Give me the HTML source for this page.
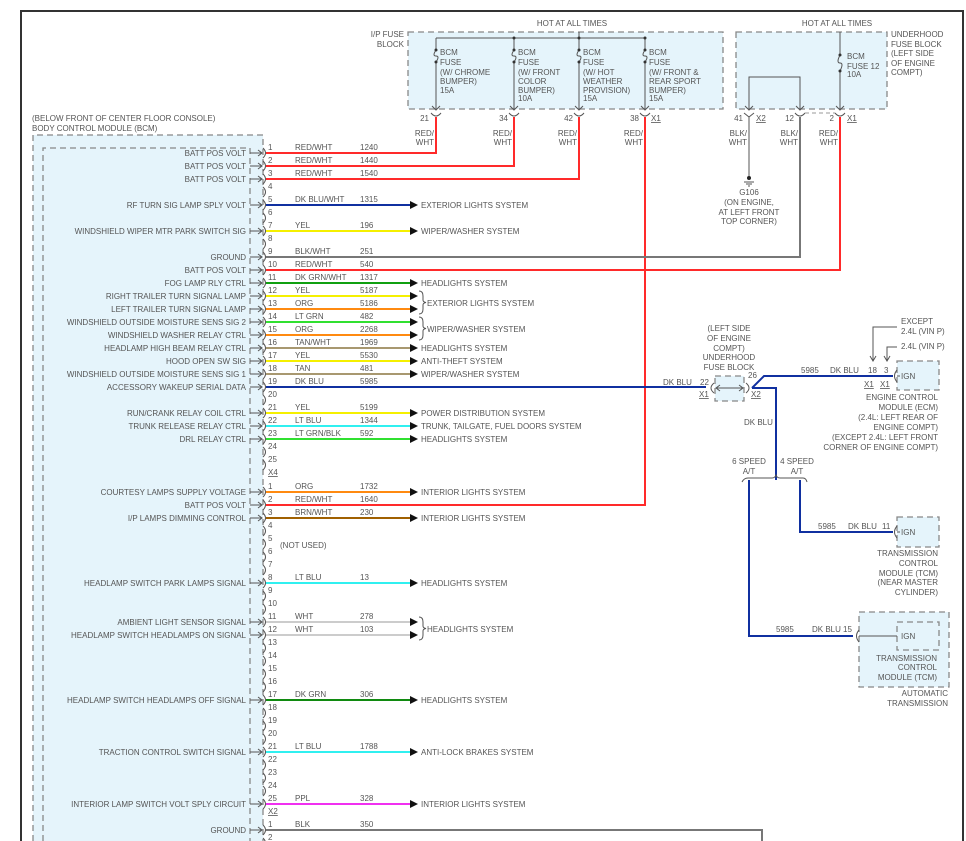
<!DOCTYPE html>
<html><head><meta charset="utf-8"><style>
html,body{margin:0;padding:0;background:#fff;width:966px;height:841px;overflow:hidden}
svg{display:block}
text{font-family:"Liberation Sans",sans-serif;font-size:8px;fill:#555}
.r{text-anchor:end}.m{text-anchor:middle}
.d{fill:none;stroke:#888;stroke-width:1.3;stroke-dasharray:6,4}
.w{fill:none;stroke-width:2}
.k{fill:none;stroke:#555;stroke-width:1}
</style></head><body>
<svg width="966" height="841" viewBox="0 0 966 841" xmlns="http://www.w3.org/2000/svg">
<path d="M21,841 V11 H963 V841" fill="none" stroke="#333" stroke-width="2"/>

<rect x="33" y="135" width="230" height="710" fill="#e5f4fb"/>
<path class="d" d="M33,841 V135 H263 V841"/>
<path class="d" d="M43,841 V148 H250 V841"/>
<text x="32" y="121">(BELOW FRONT OF CENTER FLOOR CONSOLE)</text>
<text x="32" y="131">BODY CONTROL MODULE (BCM)</text>

<rect x="408" y="32" width="315" height="77" fill="#e5f4fb"/>
<rect class="d" x="408" y="32" width="315" height="77"/>
<rect x="736" y="32" width="151" height="77" fill="#e5f4fb"/>
<rect class="d" x="736" y="32" width="151" height="77"/>
<text class="m" x="572" y="26">HOT AT ALL TIMES</text>
<text class="m" x="837" y="26">HOT AT ALL TIMES</text>
<text class="r" x="404" y="37">I/P FUSE</text>
<text class="r" x="404" y="47">BLOCK</text>
<text x="891" y="37">UNDERHOOD</text><text x="891" y="47">FUSE BLOCK</text><text x="891" y="56">(LEFT SIDE</text><text x="891" y="66">OF ENGINE</text><text x="891" y="75">COMPT)</text>
<path class="k" d="M579,32 V38 M436,38 H645 M436,38 V48 M514,38 V48 M579,38 V48 M645,38 V48"/>
<g fill="#333"><circle cx="514" cy="38" r="1.5"/><circle cx="579" cy="38" r="1.5"/><circle cx="645" cy="38" r="1.5"/></g>
<g class="k">
<path d="M436,48 V50 Q432,56 436,56 Q440,56 436,62 V110 M514,48 V50 Q510,56 514,56 Q518,56 514,62 V110 M579,48 V50 Q575,56 579,56 Q583,56 579,62 V110 M645,48 V50 Q641,56 645,56 Q649,56 645,62 V110"/>
<path d="M840,32 V55 Q836,63 840,63 Q844,63 840,71 V110 M749,110 V77 H800 V110"/>
<path d="M432,106 L436,110 L440,106 M510,106 L514,110 L518,106 M575,106 L579,110 L583,106 M641,106 L645,110 L649,106 M745,106 L749,110 L753,106 M796,106 L800,110 L804,106 M836,106 L840,110 L844,106"/>
<path d="M431,113 Q436,119 441,113 M509,113 Q514,119 519,113 M574,113 Q579,119 584,113 M640,113 Q645,119 650,113 M744,113 L749,117 L754,113 M795,113 Q800,119 805,113 M835,113 Q840,119 845,113"/>
</g>
<g fill="#333"><circle cx="436" cy="50" r="1.5"/><circle cx="436" cy="62" r="1.5"/><circle cx="514" cy="50" r="1.5"/><circle cx="514" cy="62" r="1.5"/><circle cx="579" cy="50" r="1.5"/><circle cx="579" cy="62" r="1.5"/><circle cx="645" cy="50" r="1.5"/><circle cx="645" cy="62" r="1.5"/><circle cx="840" cy="55" r="1.5"/><circle cx="840" cy="71" r="1.5"/></g>
<text x="440" y="55">BCM</text><text x="440" y="65">FUSE</text><text x="440" y="75">(W/ CHROME</text><text x="440" y="84">BUMPER)</text><text x="440" y="93">15A</text>
<text x="518" y="55">BCM</text><text x="518" y="65">FUSE</text><text x="518" y="75">(W/ FRONT</text><text x="518" y="84">COLOR</text><text x="518" y="93">BUMPER)</text><text x="518" y="101">10A</text>
<text x="583" y="55">BCM</text><text x="583" y="65">FUSE</text><text x="583" y="75">(W/ HOT</text><text x="583" y="84">WEATHER</text><text x="583" y="93">PROVISION)</text><text x="583" y="101">15A</text>
<text x="649" y="55">BCM</text><text x="649" y="65">FUSE</text><text x="649" y="75">(W/ FRONT &amp;</text><text x="649" y="84">REAR SPORT</text><text x="649" y="93">BUMPER)</text><text x="649" y="101">15A</text>
<text x="847" y="59">BCM</text><text x="847" y="69">FUSE 12</text><text x="847" y="77">10A</text>
<text class="r" x="429" y="121">21</text><text class="r" x="508" y="121">34</text><text class="r" x="573" y="121">42</text><text class="r" x="639" y="121">38</text>
<text x="651" y="121" text-decoration="underline">X1</text>
<text class="r" x="743" y="121">41</text><text x="756" y="121" text-decoration="underline">X2</text>
<text class="r" x="794" y="121">12</text><text class="r" x="834" y="121">2</text><text x="847" y="121" text-decoration="underline">X1</text>
<path d="M805,113 H835" stroke="#999" stroke-dasharray="4,3" fill="none"/>
<g>
<text class="r" x="434" y="136">RED/</text><text class="r" x="434" y="145">WHT</text>
<text class="r" x="512" y="136">RED/</text><text class="r" x="512" y="145">WHT</text>
<text class="r" x="577" y="136">RED/</text><text class="r" x="577" y="145">WHT</text>
<text class="r" x="643" y="136">RED/</text><text class="r" x="643" y="145">WHT</text>
<text class="r" x="747" y="136">BLK/</text><text class="r" x="747" y="145">WHT</text>
<text class="r" x="798" y="136">BLK/</text><text class="r" x="798" y="145">WHT</text>
<text class="r" x="838" y="136">RED/</text><text class="r" x="838" y="145">WHT</text>
</g>
<path class="k" d="M749,117 V176 M744,182 H754 M746,184 H752 M748,186 H750"/>
<circle cx="749" cy="178" r="2" fill="#222"/>
<text class="m" x="749" y="195">G106</text><text class="m" x="749" y="205">(ON ENGINE,</text><text class="m" x="749" y="215">AT LEFT FRONT</text><text class="m" x="749" y="224">TOP CORNER)</text>

<path class="w" stroke="#ff2a2a" d="M266,153 H436 V117 M266,166 H514 V117 M266,179 H579 V117 M266,270 H840 V117 M266,505 H645 V117"/>
<path class="w" stroke="#777" d="M266,257 H800 V117 M266,830 H762 V841"/>
<path class="w" stroke="#1030a0" d="M266,387 H706 M752,388 L764,376 H893 M752,388 H776 V480 M749,480 V636 H853 M800,480 V532 H893"/>

<g class="w">
<path stroke="#1030a0" d="M266,205 H411"/>
<path stroke="#f5f000" d="M266,231 H411 M266,296 H411 M266,361 H411 M266,413 H411"/>
<path stroke="#10a010" d="M266,283 H411"/>
<path stroke="#ff8a10" d="M266,309 H411 M266,335 H411 M266,492 H411"/>
<path stroke="#30e030" d="M266,322 H411 M266,439 H411"/>
<path stroke="#a89870" d="M266,348 H411 M266,374 H411"/>
<path stroke="#30f0f0" d="M266,426 H411 M266,583 H411 M266,752 H411"/>
<path stroke="#a06000" d="M266,518 H411"/>
<path stroke="#ccc" d="M266,622 H411 M266,635 H411"/>
<path stroke="#108a10" d="M266,700 H411"/>
<path stroke="#f030f0" d="M266,804 H411"/>
</g>
<g fill="#111">
<path d="M410,201 L418,205 L410,209Z M410,227 L418,231 L410,235Z M410,279 L418,283 L410,287Z M410,292 L418,296 L410,300Z M410,305 L418,309 L410,313Z M410,318 L418,322 L410,326Z M410,331 L418,335 L410,339Z M410,344 L418,348 L410,352Z M410,357 L418,361 L410,365Z M410,370 L418,374 L410,378Z M410,409 L418,413 L410,417Z M410,422 L418,426 L410,430Z M410,435 L418,439 L410,443Z M410,488 L418,492 L410,496Z M410,514 L418,518 L410,522Z M410,579 L418,583 L410,587Z M410,618 L418,622 L410,626Z M410,631 L418,635 L410,639Z M410,696 L418,700 L410,704Z M410,748 L418,752 L410,756Z M410,800 L418,804 L410,808Z"/>
</g>
<path class="k" d="M419,291 Q423,291 423,296 V300 Q423,302 426,302.5 Q423,303 423,305 V309 Q423,314 419,314 M419,317 Q423,317 423,322 V326 Q423,328 426,328.5 Q423,329 423,331 V335 Q423,340 419,340 M419,617 Q423,617 423,622 V626 Q423,628 426,628.5 Q423,629 423,631 V635 Q423,640 419,640"/>
<text x="421" y="208">EXTERIOR LIGHTS SYSTEM</text>
<text x="421" y="234">WIPER/WASHER SYSTEM</text>
<text x="421" y="286">HEADLIGHTS SYSTEM</text>
<text x="427" y="306">EXTERIOR LIGHTS SYSTEM</text>
<text x="427" y="332">WIPER/WASHER SYSTEM</text>
<text x="421" y="351">HEADLIGHTS SYSTEM</text>
<text x="421" y="364">ANTI-THEFT SYSTEM</text>
<text x="421" y="377">WIPER/WASHER SYSTEM</text>
<text x="421" y="416">POWER DISTRIBUTION SYSTEM</text>
<text x="421" y="429">TRUNK, TAILGATE, FUEL DOORS SYSTEM</text>
<text x="421" y="442">HEADLIGHTS SYSTEM</text>
<text x="421" y="495">INTERIOR LIGHTS SYSTEM</text>
<text x="421" y="521">INTERIOR LIGHTS SYSTEM</text>
<text x="421" y="586">HEADLIGHTS SYSTEM</text>
<text x="427" y="632">HEADLIGHTS SYSTEM</text>
<text x="421" y="703">HEADLIGHTS SYSTEM</text>
<text x="421" y="755">ANTI-LOCK BRAKES SYSTEM</text>
<text x="421" y="807">INTERIOR LIGHTS SYSTEM</text>

<path class="k" d="M263,148 Q268,153 263,158 M263,161 Q268,166 263,171 M263,174 Q268,179 263,184 M263,187 Q268,192 263,197 M263,200 Q268,205 263,210 M263,213 Q268,218 263,223 M263,226 Q268,231 263,236 M263,239 Q268,244 263,249 M263,252 Q268,257 263,262 M263,265 Q268,270 263,275 M263,278 Q268,283 263,288 M263,291 Q268,296 263,301 M263,304 Q268,309 263,314 M263,317 Q268,322 263,327 M263,330 Q268,335 263,340 M263,343 Q268,348 263,353 M263,356 Q268,361 263,366 M263,369 Q268,374 263,379 M263,382 Q268,387 263,392 M263,395 Q268,400 263,405 M263,408 Q268,413 263,418 M263,421 Q268,426 263,431 M263,434 Q268,439 263,444 M263,447 Q268,452 263,457 M263,460 Q268,465 263,470
M263,487 Q268,492 263,497 M263,500 Q268,505 263,510 M263,513 Q268,518 263,523 M263,526 Q268,531 263,536 M263,539 Q268,544 263,549 M263,552 Q268,557 263,562 M263,565 Q268,570 263,575 M263,578 Q268,583 263,588 M263,591 Q268,596 263,601 M263,604 Q268,609 263,614 M263,617 Q268,622 263,627 M263,630 Q268,635 263,640 M263,643 Q268,648 263,653 M263,656 Q268,661 263,666 M263,669 Q268,674 263,679 M263,682 Q268,687 263,692 M263,695 Q268,700 263,705 M263,708 Q268,713 263,718 M263,721 Q268,726 263,731 M263,734 Q268,739 263,744 M263,747 Q268,752 263,757 M263,760 Q268,765 263,770 M263,773 Q268,778 263,783 M263,786 Q268,791 263,796 M263,799 Q268,804 263,809 M263,825 Q268,830 263,835 M263,838 Q268,843 263,848"/>
<path class="k" d="M250,153 H262 M258,150 L262,153 L258,156 M250,166 H262 M258,163 L262,166 L258,169 M250,179 H262 M258,176 L262,179 L258,182 M250,205 H262 M258,202 L262,205 L258,208 M250,231 H262 M258,228 L262,231 L258,234 M250,257 H262 M258,254 L262,257 L258,260 M250,270 H262 M258,267 L262,270 L258,273 M250,283 H262 M258,280 L262,283 L258,286 M250,296 H262 M258,293 L262,296 L258,299 M250,309 H262 M258,306 L262,309 L258,312 M250,322 H262 M258,319 L262,322 L258,325 M250,335 H262 M258,332 L262,335 L258,338 M250,348 H262 M258,345 L262,348 L258,351 M250,361 H262 M258,358 L262,361 L258,364 M250,374 H262 M258,371 L262,374 L258,377 M250,387 H262 M258,384 L262,387 L258,390 M250,413 H262 M258,410 L262,413 L258,416 M250,426 H262 M258,423 L262,426 L258,429 M250,439 H262 M258,436 L262,439 L258,442 M250,492 H262 M258,489 L262,492 L258,495 M250,505 H262 M258,502 L262,505 L258,508 M250,518 H262 M258,515 L262,518 L258,521 M250,583 H262 M258,580 L262,583 L258,586 M250,622 H262 M258,619 L262,622 L258,625 M250,635 H262 M258,632 L262,635 L258,638 M250,700 H262 M258,697 L262,700 L258,703 M250,752 H262 M258,749 L262,752 L258,755 M250,804 H262 M258,801 L262,804 L258,807 M250,830 H262 M258,827 L262,830 L258,833"/>

<g>
<text x="268" y="150">1</text><text x="268" y="163">2</text><text x="268" y="176">3</text><text x="268" y="189">4</text><text x="268" y="202">5</text><text x="268" y="215">6</text><text x="268" y="228">7</text><text x="268" y="241">8</text><text x="268" y="254">9</text><text x="268" y="267">10</text><text x="268" y="280">11</text><text x="268" y="293">12</text><text x="268" y="306">13</text><text x="268" y="319">14</text><text x="268" y="332">15</text><text x="268" y="345">16</text><text x="268" y="358">17</text><text x="268" y="371">18</text><text x="268" y="384">19</text><text x="268" y="397">20</text><text x="268" y="410">21</text><text x="268" y="423">22</text><text x="268" y="436">23</text><text x="268" y="449">24</text><text x="268" y="462">25</text>
<text x="268" y="475" text-decoration="underline">X4</text>
<text x="268" y="489">1</text><text x="268" y="502">2</text><text x="268" y="515">3</text><text x="268" y="528">4</text><text x="268" y="541">5</text><text x="268" y="554">6</text><text x="268" y="567">7</text><text x="268" y="580">8</text><text x="268" y="593">9</text><text x="268" y="606">10</text><text x="268" y="619">11</text><text x="268" y="632">12</text><text x="268" y="645">13</text><text x="268" y="658">14</text><text x="268" y="671">15</text><text x="268" y="684">16</text><text x="268" y="697">17</text><text x="268" y="710">18</text><text x="268" y="723">19</text><text x="268" y="736">20</text><text x="268" y="749">21</text><text x="268" y="762">22</text><text x="268" y="775">23</text><text x="268" y="788">24</text><text x="268" y="801">25</text>
<text x="268" y="814" text-decoration="underline">X2</text>
<text x="268" y="827">1</text><text x="268" y="840">2</text>
</g>
<text x="280" y="548">(NOT USED)</text>

<g>
<text x="295" y="150">RED/WHT</text><text x="360" y="150">1240</text>
<text x="295" y="163">RED/WHT</text><text x="360" y="163">1440</text>
<text x="295" y="176">RED/WHT</text><text x="360" y="176">1540</text>
<text x="295" y="202">DK BLU/WHT</text><text x="360" y="202">1315</text>
<text x="295" y="228">YEL</text><text x="360" y="228">196</text>
<text x="295" y="254">BLK/WHT</text><text x="360" y="254">251</text>
<text x="295" y="267">RED/WHT</text><text x="360" y="267">540</text>
<text x="295" y="280">DK GRN/WHT</text><text x="360" y="280">1317</text>
<text x="295" y="293">YEL</text><text x="360" y="293">5187</text>
<text x="295" y="306">ORG</text><text x="360" y="306">5186</text>
<text x="295" y="319">LT GRN</text><text x="360" y="319">482</text>
<text x="295" y="332">ORG</text><text x="360" y="332">2268</text>
<text x="295" y="345">TAN/WHT</text><text x="360" y="345">1969</text>
<text x="295" y="358">YEL</text><text x="360" y="358">5530</text>
<text x="295" y="371">TAN</text><text x="360" y="371">481</text>
<text x="295" y="384">DK BLU</text><text x="360" y="384">5985</text>
<text x="295" y="410">YEL</text><text x="360" y="410">5199</text>
<text x="295" y="423">LT BLU</text><text x="360" y="423">1344</text>
<text x="295" y="436">LT GRN/BLK</text><text x="360" y="436">592</text>
<text x="295" y="489">ORG</text><text x="360" y="489">1732</text>
<text x="295" y="502">RED/WHT</text><text x="360" y="502">1640</text>
<text x="295" y="515">BRN/WHT</text><text x="360" y="515">230</text>
<text x="295" y="580">LT BLU</text><text x="360" y="580">13</text>
<text x="295" y="619">WHT</text><text x="360" y="619">278</text>
<text x="295" y="632">WHT</text><text x="360" y="632">103</text>
<text x="295" y="697">DK GRN</text><text x="360" y="697">306</text>
<text x="295" y="749">LT BLU</text><text x="360" y="749">1788</text>
<text x="295" y="801">PPL</text><text x="360" y="801">328</text>
<text x="295" y="827">BLK</text><text x="360" y="827">350</text>
</g>

<g>
<text class="r" x="246" y="156">BATT POS VOLT</text>
<text class="r" x="246" y="169">BATT POS VOLT</text>
<text class="r" x="246" y="182">BATT POS VOLT</text>
<text class="r" x="246" y="208">RF TURN SIG LAMP SPLY VOLT</text>
<text class="r" x="246" y="234">WINDSHIELD WIPER MTR PARK SWITCH SIG</text>
<text class="r" x="246" y="260">GROUND</text>
<text class="r" x="246" y="273">BATT POS VOLT</text>
<text class="r" x="246" y="286">FOG LAMP RLY CTRL</text>
<text class="r" x="246" y="299">RIGHT TRAILER TURN SIGNAL LAMP</text>
<text class="r" x="246" y="312">LEFT TRAILER TURN SIGNAL LAMP</text>
<text class="r" x="246" y="325">WINDSHIELD OUTSIDE MOISTURE SENS SIG 2</text>
<text class="r" x="246" y="338">WINDSHIELD WASHER RELAY CTRL</text>
<text class="r" x="246" y="351">HEADLAMP HIGH BEAM RELAY CTRL</text>
<text class="r" x="246" y="364">HOOD OPEN SW SIG</text>
<text class="r" x="246" y="377">WINDSHIELD OUTSIDE MOISTURE SENS SIG 1</text>
<text class="r" x="246" y="390">ACCESSORY WAKEUP SERIAL DATA</text>
<text class="r" x="246" y="416">RUN/CRANK RELAY COIL CTRL</text>
<text class="r" x="246" y="429">TRUNK RELEASE RELAY CTRL</text>
<text class="r" x="246" y="442">DRL RELAY CTRL</text>
<text class="r" x="246" y="495">COURTESY LAMPS SUPPLY VOLTAGE</text>
<text class="r" x="246" y="508">BATT POS VOLT</text>
<text class="r" x="246" y="521">I/P LAMPS DIMMING CONTROL</text>
<text class="r" x="246" y="586">HEADLAMP SWITCH PARK LAMPS SIGNAL</text>
<text class="r" x="246" y="625">AMBIENT LIGHT SENSOR SIGNAL</text>
<text class="r" x="246" y="638">HEADLAMP SWITCH HEADLAMPS ON SIGNAL</text>
<text class="r" x="246" y="703">HEADLAMP SWITCH HEADLAMPS OFF SIGNAL</text>
<text class="r" x="246" y="755">TRACTION CONTROL SWITCH SIGNAL</text>
<text class="r" x="246" y="807">INTERIOR LAMP SWITCH VOLT SPLY CIRCUIT</text>
<text class="r" x="246" y="833">GROUND</text>
</g>

<rect x="715" y="376" width="29" height="25" fill="#e5f4fb"/>
<rect class="d" x="715" y="376" width="29" height="25" stroke-dasharray="4,3"/>
<path class="k" d="M714,383 Q708,388 714,393 M746,383 Q752,388 746,393 M716,388 H743 M720,385 L716,388 L720,391 M739,385 L743,388 L739,391"/>
<text class="m" x="729" y="331">(LEFT SIDE</text><text class="m" x="729" y="341">OF ENGINE</text><text class="m" x="729" y="351">COMPT)</text><text class="m" x="729" y="360">UNDERHOOD</text><text class="m" x="729" y="370">FUSE BLOCK</text>
<text x="663" y="385">DK BLU</text>
<text x="700" y="385">22</text><text x="699" y="397" text-decoration="underline">X1</text>
<text x="748" y="378">26</text><text x="751" y="397" text-decoration="underline">X2</text>
<text x="744" y="425">DK BLU</text>
<text class="m" x="749" y="464">6 SPEED</text><text class="m" x="749" y="474">A/T</text>
<text class="m" x="797" y="464">4 SPEED</text><text class="m" x="797" y="474">A/T</text>
<path class="k" d="M742,482 Q744,478 748,478 H772 Q775,478 776,475 Q777,478 780,478 H803 Q806,478 807,482"/>

<rect x="897" y="361" width="42" height="29" fill="#e5f4fb"/>
<rect class="d" x="897" y="361" width="42" height="29" stroke-dasharray="5,3"/>
<path class="k" d="M897,370 Q892,376 897,382 M897,376 H900 M873,360 V327 H897 M870,356 L873,361 L876,356 M887,360 V347 H897 M884,356 L887,361 L890,356"/>
<text x="901" y="379">IGN</text>
<text x="901" y="324">EXCEPT</text><text x="901" y="334">2.4L (VIN P)</text><text x="901" y="349">2.4L (VIN P)</text>
<text x="801" y="373">5985</text><text x="830" y="373">DK BLU</text><text x="868" y="373">18</text><text x="884" y="373">3</text>
<text x="864" y="387" text-decoration="underline">X1</text><text x="880" y="387" text-decoration="underline">X1</text>
<g><text class="r" x="938" y="400">ENGINE CONTROL</text><text class="r" x="938" y="410">MODULE (ECM)</text><text class="r" x="938" y="420">(2.4L: LEFT REAR OF</text><text class="r" x="938" y="430">ENGINE COMPT)</text><text class="r" x="938" y="440">(EXCEPT 2.4L: LEFT FRONT</text><text class="r" x="938" y="450">CORNER OF ENGINE COMPT)</text></g>

<rect x="897" y="517" width="42" height="30" fill="#e5f4fb"/>
<rect class="d" x="897" y="517" width="42" height="30" stroke-dasharray="5,3"/>
<path class="k" d="M897,526 Q892,532 897,538 M897,532 H900"/>
<text x="901" y="535">IGN</text>
<text x="818" y="529">5985</text><text x="848" y="529">DK BLU</text><text x="882" y="529">11</text>
<text class="r" x="938" y="556">TRANSMISSION</text><text class="r" x="938" y="566">CONTROL</text><text class="r" x="938" y="576">MODULE (TCM)</text><text class="r" x="938" y="585">(NEAR MASTER</text><text class="r" x="938" y="595">CYLINDER)</text>

<rect x="859" y="612" width="90" height="75" fill="#e5f4fb"/>
<rect class="d" x="859" y="612" width="90" height="75" stroke-dasharray="5,3"/>
<rect class="d" x="897" y="622" width="42" height="28" stroke-dasharray="5,3"/>
<path class="k" d="M859,630 Q854,636 859,642 M859,636 H897"/>
<text x="901" y="639">IGN</text>
<text x="776" y="632">5985</text><text x="812" y="632">DK BLU</text><text x="843" y="632">15</text>
<text class="r" x="937" y="661">TRANSMISSION</text><text class="r" x="937" y="670">CONTROL</text><text class="r" x="937" y="680">MODULE (TCM)</text>
<text class="r" x="948" y="696">AUTOMATIC</text><text class="r" x="948" y="706">TRANSMISSION</text>
</svg>
</body></html>
